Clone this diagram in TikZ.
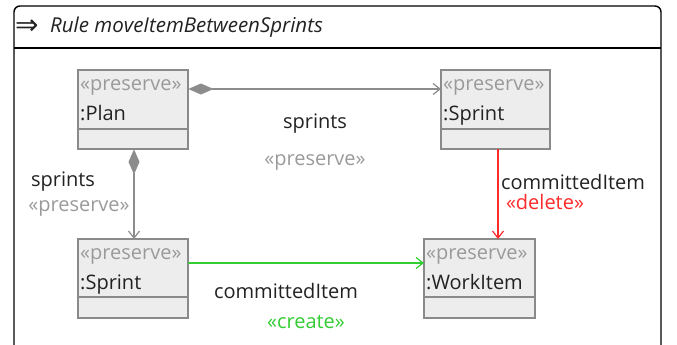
\documentclass[tikz,border=0pt]{standalone}
\usepackage{fontspec}
\setmainfont{Open Sans}
\newfontfamily\symfont{DejaVu Sans}
\usetikzlibrary{arrows.meta}
\definecolor{boxfill}{HTML}{EDEDED}
\definecolor{boxline}{HTML}{8A8A8A}
\definecolor{stereo}{HTML}{9A9A9A}
\definecolor{txt}{HTML}{222222}
\definecolor{linegray}{HTML}{8C8C8C}
\definecolor{delred}{HTML}{FF2A2A}
\definecolor{crgreen}{HTML}{33CC33}
\tikzset{
  lbl/.style={font=\fontsize{20}{22}\selectfont, text=txt, inner sep=0pt},
  stlbl/.style={font=\fontsize{20}{22}\selectfont, text=stereo, inner sep=0pt},
  objbox/.style={draw=boxline, fill=boxfill, line width=1.3pt},
  conn/.style={line width=1.3pt, draw=linegray},
  openhead/.style={-{Straight Barb[length=7pt,width=11pt,line width=1.2pt]}},
  diamhead/.style={{Diamond[length=25pt,width=11pt,fill=linegray,line width=0.6pt]}-{Straight Barb[length=7pt,width=11pt,line width=1.2pt]}},
}
\begin{document}
\begin{tikzpicture}[x=1pt,y=-1pt]
\useasboundingbox (0,0) rectangle (677,345);
% frame
\draw[line width=1.4pt, black, rounded corners=6pt] (14,348) -- (14,6) -- (661,6) -- (661,348);
\draw[line width=1.4pt, black] (14,48) -- (661,48);
\node[anchor=west, inner sep=0pt, font=\symfont\fontsize{28}{30}\selectfont, text=txt] (arr) at (15,27.5) {⇒};
\node[anchor=west, lbl, font=\itshape\fontsize{20.5}{22}\selectfont] (title) at (50,27) {Rule moveItemBetweenSprints};
% boxes
\draw[objbox] (78,70) rectangle (188,149);
\draw[boxline, line width=1.3pt] (78,129) -- (188,129);
\node[minimum width=110pt, minimum height=79pt, inner sep=0pt, anchor=north west] (plan) at (78,70) {};
\node[stlbl, anchor=base west] (planst) at (80,90) {«preserve»};
\node[lbl, anchor=base west] (planname) at (80,120) {:Plan};

\draw[objbox] (441,70) rectangle (550,149);
\draw[boxline, line width=1.3pt] (441,129) -- (550,129);
\node[minimum width=109pt, minimum height=79pt, inner sep=0pt, anchor=north west] (spr1) at (441,70) {};
\node[stlbl, anchor=base west] (spr1st) at (443,90) {«preserve»};
\node[lbl, anchor=base west] (spr1name) at (443,120) {:Sprint};

\draw[objbox] (78,239) rectangle (188,318);
\draw[boxline, line width=1.3pt] (78,297) -- (188,297);
\node[minimum width=110pt, minimum height=79pt, inner sep=0pt, anchor=north west] (spr2) at (78,239) {};
\node[stlbl, anchor=base west] (spr2st) at (80,259) {«preserve»};
\node[lbl, anchor=base west] (spr2name) at (80,289) {:Sprint};

\draw[objbox] (424,239) rectangle (535,318);
\draw[boxline, line width=1.3pt] (424,297) -- (535,297);
\node[minimum width=111pt, minimum height=79pt, inner sep=0pt, anchor=north west] (wi) at (424,239) {};
\node[stlbl, anchor=base west] (wist) at (426,259) {«preserve»};
\node[lbl, anchor=base west] (winame) at (426,289) {:WorkItem};

% connectors
\coordinate (p1) at (plan.east |- 0,89);
\coordinate (s1) at (spr1.west |- 0,89);
\draw[conn, diamhead] (p1) -- (s1);
\coordinate (p2) at (134,0 |- plan.south);
\coordinate (s2) at (134,0 |- spr2.north);
\draw[conn, diamhead] (p2) -- (s2);
\coordinate (g1) at (spr2.east |- 0,263);
\coordinate (g2) at (wi.west |- 0,263);
\draw[conn, draw=crgreen, openhead] (g1) -- (g2);
\coordinate (r1) at (498,0 |- spr1.south);
\coordinate (r2) at (498,0 |- wi.north);
\draw[conn, draw=delred, openhead] (r1) -- (r2);

% labels
\node[lbl] (l1) at (315,124) {sprints};
\node[stlbl] (l1s) at (315,162) {«preserve»};
\node[lbl] (l2) at (63,182) {sprints};
\node[stlbl] (l2s) at (79,208) {«preserve»};
\node[lbl] (l3) at (573,182) {committedItem};
\node[stlbl, text=delred] (l3s) at (545,202) {«delete»};
\node[lbl] (l4) at (286,291) {committedItem};
\node[stlbl, text=crgreen] (l4s) at (306,322) {«create»};
\end{tikzpicture}
\end{document}
